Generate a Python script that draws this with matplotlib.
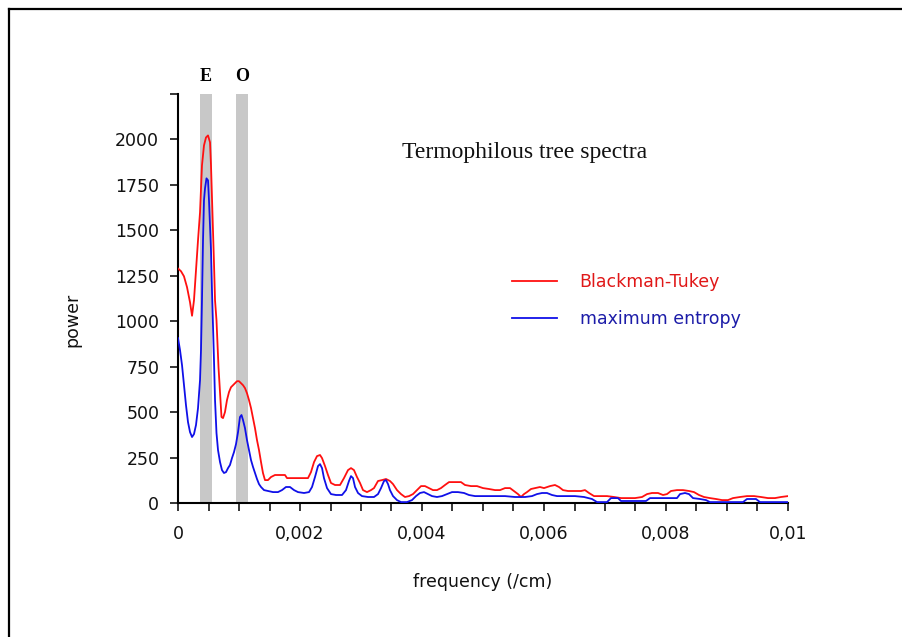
import matplotlib
matplotlib.use("Agg")
import matplotlib.pyplot as plt
from matplotlib.lines import Line2D
from matplotlib.ticker import FixedLocator, FuncFormatter
import matplotlib.transforms as mtransforms

# ---- data (frequency in /cm, power) ----
bt_freq = [0.0, 0.000049, 0.000098, 0.000148, 0.000197, 0.000230, 0.000262, 0.000295, 0.000328,
           0.000361, 0.000393, 0.000426, 0.000459, 0.000492, 0.000525, 0.000541, 0.000557, 0.000574,
           0.000590, 0.000607, 0.000631, 0.000648, 0.000664, 0.000689, 0.000713, 0.000738, 0.000770,
           0.000803, 0.000836, 0.000869, 0.000902, 0.000934, 0.000967, 0.001000, 0.001033, 0.001066,
           0.001098, 0.001131, 0.001164, 0.001197, 0.001230, 0.001262, 0.001295, 0.001328, 0.001361,
           0.001393, 0.001426, 0.001475, 0.001525, 0.001590, 0.001754, 0.001787, 0.001951, 0.002131,
           0.002180, 0.002230, 0.002279, 0.002328, 0.002361, 0.002410, 0.002459, 0.002508, 0.002574,
           0.002656, 0.002721, 0.002787, 0.002836, 0.002885, 0.002934, 0.002984, 0.003033, 0.003098,
           0.003164, 0.003213, 0.003279, 0.003344, 0.003410, 0.003475, 0.003525, 0.003590, 0.003656,
           0.003721, 0.003787, 0.003852, 0.003918, 0.003984, 0.004049, 0.004115, 0.004180, 0.004246,
           0.004311, 0.004377, 0.004443, 0.004541, 0.004639, 0.004705, 0.004803, 0.004902, 0.005000,
           0.005098, 0.005197, 0.005279, 0.005361, 0.005443, 0.005508, 0.005574, 0.005623, 0.005672,
           0.005721, 0.005787, 0.005852, 0.005934, 0.006000, 0.006098, 0.006180, 0.006246, 0.006311,
           0.006393, 0.006508, 0.006607, 0.006672, 0.006738, 0.006820, 0.006918, 0.007033, 0.007148,
           0.007262, 0.007377, 0.007492, 0.007607, 0.007689, 0.007770, 0.007869, 0.007951, 0.008016,
           0.008082, 0.008180, 0.008279, 0.008377, 0.008459, 0.008541, 0.008623, 0.008721, 0.008820,
           0.008918, 0.009016, 0.009098, 0.009213, 0.009328, 0.009443, 0.009557, 0.009672, 0.009787,
           0.009885, 0.010000]
bt_power = [1290, 1275, 1247, 1187, 1104, 1030, 1115, 1280, 1445,
            1599, 1857, 1967, 2011, 2022, 1984, 1857, 1687, 1500,
            1319, 1115, 1005, 868, 747, 604, 473, 467, 500,
            566, 610, 637, 648, 659, 670, 670, 659, 648,
            632, 604, 566, 522, 467, 412, 346, 291, 225,
            165, 126, 126, 143, 154, 154, 137, 137, 137,
            170, 225, 258, 264, 247, 203, 154, 110, 99,
            99, 137, 181, 192, 181, 143, 110, 71, 60,
            71, 82, 121, 126, 132, 121, 104, 71, 49,
            33, 38, 49, 71, 93, 93, 82, 71, 71,
            82, 99, 115, 115, 115, 99, 93, 93, 82,
            77, 71, 71, 82, 82, 66, 49, 33, 49,
            60, 77, 82, 88, 82, 93, 99, 88, 71,
            66, 66, 66, 71, 55, 38, 38, 38, 33,
            27, 27, 27, 33, 49, 55, 55, 44, 49,
            66, 71, 71, 66, 60, 44, 33, 27, 22,
            16, 16, 27, 33, 38, 38, 33, 27, 27,
            33, 38]

me_freq = [0.0, 0.000033, 0.000066, 0.000098, 0.000131, 0.000164, 0.000197, 0.000230, 0.000262,
           0.000295, 0.000328, 0.000361, 0.000377, 0.000393, 0.000410, 0.000426, 0.000443, 0.000467,
           0.000492, 0.000508, 0.000525, 0.000541, 0.000557, 0.000574, 0.000590, 0.000607, 0.000631,
           0.000656, 0.000689, 0.000721, 0.000754, 0.000787, 0.000820, 0.000852, 0.000885, 0.000918,
           0.000951, 0.000984, 0.001016, 0.001041, 0.001066, 0.001098, 0.001131, 0.001164, 0.001197,
           0.001230, 0.001262, 0.001295, 0.001328, 0.001361, 0.001410, 0.001475, 0.001557, 0.001639,
           0.001705, 0.001770, 0.001836, 0.001902, 0.001967, 0.002066, 0.002148, 0.002197, 0.002246,
           0.002295, 0.002328, 0.002361, 0.002393, 0.002443, 0.002508, 0.002590, 0.002689, 0.002754,
           0.002803, 0.002836, 0.002869, 0.002902, 0.002951, 0.003016, 0.003115, 0.003213, 0.003279,
           0.003328, 0.003377, 0.003410, 0.003443, 0.003475, 0.003525, 0.003590, 0.003656, 0.003754,
           0.003836, 0.003902, 0.003967, 0.004033, 0.004098, 0.004164, 0.004246, 0.004328, 0.004410,
           0.004492, 0.004590, 0.004689, 0.004770, 0.004869, 0.005033, 0.005197, 0.005361, 0.005525,
           0.005689, 0.005803, 0.005885, 0.005967, 0.006049, 0.006131, 0.006213, 0.006344, 0.006508,
           0.006656, 0.006787, 0.006869, 0.007033, 0.007098, 0.007213, 0.007262, 0.007459, 0.007672,
           0.007738, 0.007902, 0.008066, 0.008180, 0.008230, 0.008311, 0.008377, 0.008443, 0.008557,
           0.008656, 0.008721, 0.008967, 0.009262, 0.009328, 0.009475, 0.009541, 0.009787, 0.010000]
me_power = [907, 841, 758, 648, 538, 445, 390, 363, 379,
            429, 522, 676, 841, 1115, 1445, 1665, 1731, 1786,
            1775, 1665, 1516, 1390, 1170, 978, 786, 566, 385,
            291, 225, 181, 165, 170, 192, 209, 247, 280,
            324, 390, 473, 484, 456, 412, 346, 291, 236,
            198, 165, 132, 104, 88, 71, 66, 60, 60,
            71, 88, 88, 71, 60, 55, 60, 88, 143,
            203, 214, 192, 137, 82, 49, 44, 44, 71,
            121, 148, 137, 88, 55, 38, 33, 33, 49,
            82, 121, 126, 104, 71, 38, 16, 5, 5,
            16, 38, 55, 60, 49, 38, 33, 38, 49,
            60, 60, 55, 44, 38, 38, 38, 38, 33,
            33, 38, 49, 55, 55, 44, 38, 38, 38,
            33, 22, 5, 5, 27, 27, 11, 11, 11,
            27, 27, 27, 27, 49, 55, 49, 27, 22,
            16, 5, 5, 5, 22, 22, 5, 5, 5]

band_labels = ["E", "O"]
band_lo = [0.000361, 0.000951]
band_hi = [0.000557, 0.001148]

series_names = ["Blackman-Tukey", "maximum entropy"]
x_major = [0.0, 0.002, 0.004, 0.006, 0.008, 0.01]
x_tick_labels = ["0", "0,002", "0,004", "0,006", "0,008", "0,01"]
y_ticks = [0, 250, 500, 750, 1000, 1250, 1500, 1750, 2000, 2250]
y_tick_labels = ["0", "250", "500", "750", "1000", "1250", "1500", "1750", "2000", ""]

title_text = "Termophilous tree spectra"

# ---- figure ----
W, H = 902, 637
fig = plt.figure(figsize=(W / 100, H / 100), dpi=100)
ax = fig.add_axes([178 / W, 1 - 503 / H, (788 - 178) / W, (503 - 94) / H])

# grey bands
trans = mtransforms.blended_transform_factory(ax.transData, ax.transAxes)
for lo, hi, lab in zip(band_lo, band_hi, band_labels):
    ax.axvspan(lo, hi, color="#c8c8c8", lw=0, zorder=0)
    ax.text((lo + hi) / 2, 1.043, lab, transform=trans, ha="center", va="center",
            fontsize=13, fontweight="bold", family="Liberation Serif", color="black")

l1, = ax.plot(bt_freq, bt_power, color="#ff1010", lw=1.3, zorder=3)
l2, = ax.plot(me_freq, me_power, color="#1010e8", lw=1.3, zorder=4)

ax.set_xlim(0, 0.01)
ax.set_ylim(0, 2250)

for s in ["top", "right"]:
    ax.spines[s].set_visible(False)
for s in ["left", "bottom"]:
    ax.spines[s].set_linewidth(1.5)
    ax.spines[s].set_color("black")

minor_ticks = [i * 0.0005 for i in range(21)]
label_map = dict(zip([round(m, 4) for m in x_major], x_tick_labels))
ax.xaxis.set_major_locator(FixedLocator(minor_ticks))
ax.xaxis.set_major_formatter(FuncFormatter(lambda v, p: label_map.get(round(v, 4), "")))
ax.set_yticks(y_ticks)
ax.set_yticklabels(y_tick_labels)

ax.tick_params(axis="both", direction="out", length=5.5, width=1.1, color="black",
               labelsize=12.5, labelcolor="#111111")
ax.tick_params(axis="x", pad=10)
ax.tick_params(axis="y", pad=8)

ax.set_xlabel("frequency (/cm)", fontsize=12.5, color="#111111")
ax.set_ylabel("power", fontsize=12.5, color="#111111")
ax.xaxis.set_label_coords(0.5, -0.172)
ax.yaxis.set_label_coords(-0.158, 0.447)

ax.text(0.367, 0.856, title_text, transform=ax.transAxes, ha="left", va="center",
        fontsize=17, family="Liberation Serif", color="#111111")

leg = ax.legend([l1, l2], series_names, loc="upper left",
                bbox_to_anchor=(512 / W, 1 - 273 / H), bbox_transform=fig.transFigure,
                frameon=False, fontsize=12.5, handlelength=2.6, handletextpad=1.3,
                labelspacing=1.08, borderpad=0, borderaxespad=0)
for t, c in zip(leg.get_texts(), ["#e01818", "#1c1ca8"]):
    t.set_color(c)

# outer frame (top and left edges)
fig.add_artist(Line2D([8.5 / W, 8.5 / W], [0, 1 - 8.5 / H], transform=fig.transFigure,
                      color="black", lw=1.6))
fig.add_artist(Line2D([8.5 / W, 1], [1 - 8.5 / H, 1 - 8.5 / H], transform=fig.transFigure,
                      color="black", lw=1.6))

fig.savefig("out.png", dpi=100, facecolor="white")
